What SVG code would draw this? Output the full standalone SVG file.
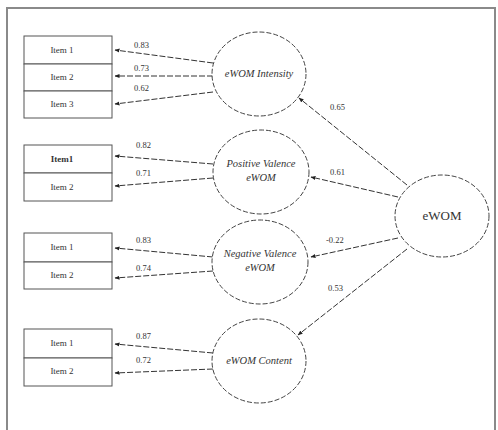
<svg xmlns="http://www.w3.org/2000/svg" width="498" height="430" viewBox="0 0 498 430">
  <style>
    .frame { fill: #ffffff; stroke: #8a8a8a; stroke-width: 2; }
    .item { fill: #ffffff; stroke: #555555; stroke-width: 1; }
    .latent { fill: #ffffff; stroke: #444444; stroke-width: 1; stroke-dasharray: 5 2; }
    .link { fill: none; stroke: #333333; stroke-width: 1; stroke-dasharray: 6 2; marker-end: url(#head); }
    .itxt { font-family: "Liberation Serif", "DejaVu Serif", serif; font-size: 9px; fill: #333333; text-anchor: middle; }
    .ltxt { font-family: "Liberation Serif", "DejaVu Serif", serif; font-size: 10.5px; font-style: italic; fill: #333333; text-anchor: middle; }
    .wtxt { font-family: "Liberation Serif", "DejaVu Serif", serif; font-size: 13px; fill: #333333; text-anchor: middle; }
    .num { font-family: "Liberation Serif", "DejaVu Serif", serif; font-size: 8.5px; fill: #333333; }
  </style>
  <defs>
    <marker id="head" viewBox="0 0 10 10" refX="9" refY="5" markerWidth="5" markerHeight="5" orient="auto">
      <path d="M0,1 L10,5 L0,9 z" fill="#222222"/>
    </marker>
  </defs>

  <rect width="498" height="430" fill="#ffffff"/>
  <rect class="frame" x="7" y="8" width="488" height="430"/>

  <!-- connectors -->
  <g id="connectors">
    <path class="link" d="M213,63 L115,50"/>
    <path class="link" d="M213,76 L115,76"/>
    <path class="link" d="M213,92 L115,104"/>
    <path class="link" d="M213,164 L115,156"/>
    <path class="link" d="M213,178 L115,186"/>
    <path class="link" d="M213,257 L115,248"/>
    <path class="link" d="M213,271 L115,278"/>
    <path class="link" d="M213,353 L115,344"/>
    <path class="link" d="M213,369 L115,373"/>
    <path class="link" d="M407,185 L299,98"/>
    <path class="link" d="M398,197 L311,177"/>
    <path class="link" d="M398,238 L311,257"/>
    <path class="link" d="M407,249 L298,335"/>
    <text class="num" x="134" y="48">0.83</text>
    <text class="num" x="134" y="71">0.73</text>
    <text class="num" x="134" y="91">0.62</text>
    <text class="num" x="136" y="148">0.82</text>
    <text class="num" x="136" y="176">0.71</text>
    <text class="num" x="136" y="243">0.83</text>
    <text class="num" x="136" y="271">0.74</text>
    <text class="num" x="136" y="339">0.87</text>
    <text class="num" x="136" y="363">0.72</text>
    <text class="num" x="330" y="110">0.65</text>
    <text class="num" x="330" y="175">0.61</text>
    <text class="num" x="326" y="243">-0.22</text>
    <text class="num" x="328" y="291">0.53</text>
  </g>

  <!-- indicator boxes -->
  <g id="intensity-items">
    <rect class="item" x="24" y="36" width="88" height="28"/>
    <text class="itxt" x="62" y="53">Item 1</text>
    <rect class="item" x="24" y="64" width="88" height="27"/>
    <text class="itxt" x="62" y="80">Item 2</text>
    <rect class="item" x="24" y="91" width="88" height="27"/>
    <text class="itxt" x="62" y="107">Item 3</text>
  </g>
  <g id="positive-items">
    <rect class="item" x="24" y="145" width="88" height="28"/>
    <text class="itxt" x="62" y="162" font-weight="bold">Item1</text>
    <rect class="item" x="24" y="173" width="88" height="28"/>
    <text class="itxt" x="62" y="190">Item 2</text>
  </g>
  <g id="negative-items">
    <rect class="item" x="24" y="233" width="88" height="29"/>
    <text class="itxt" x="62" y="250">Item 1</text>
    <rect class="item" x="24" y="262" width="88" height="27"/>
    <text class="itxt" x="62" y="278">Item 2</text>
  </g>
  <g id="content-items">
    <rect class="item" x="24" y="329" width="88" height="29"/>
    <text class="itxt" x="62" y="346">Item 1</text>
    <rect class="item" x="24" y="358" width="88" height="28"/>
    <text class="itxt" x="62" y="374">Item 2</text>
  </g>

  <!-- latent constructs -->
  <g id="ewom-intensity">
    <ellipse class="latent" cx="259" cy="74" rx="47" ry="42"/>
    <text class="ltxt" x="259" y="77">eWOM Intensity</text>
  </g>
  <g id="positive-valence">
    <ellipse class="latent" cx="261" cy="172" rx="48" ry="42"/>
    <text class="ltxt" x="261" y="167">Positive Valence</text>
    <text class="ltxt" x="261" y="181">eWOM</text>
  </g>
  <g id="negative-valence">
    <ellipse class="latent" cx="260" cy="262" rx="48" ry="42"/>
    <text class="ltxt" x="260" y="257">Negative Valence</text>
    <text class="ltxt" x="260" y="271">eWOM</text>
  </g>
  <g id="ewom-content">
    <ellipse class="latent" cx="259" cy="361" rx="47" ry="42"/>
    <text class="ltxt" x="259" y="364">eWOM Content</text>
  </g>
  <g id="ewom">
    <ellipse class="latent" cx="442" cy="216" rx="47" ry="41"/>
    <text class="wtxt" x="442" y="220">eWOM</text>
  </g>
</svg>
